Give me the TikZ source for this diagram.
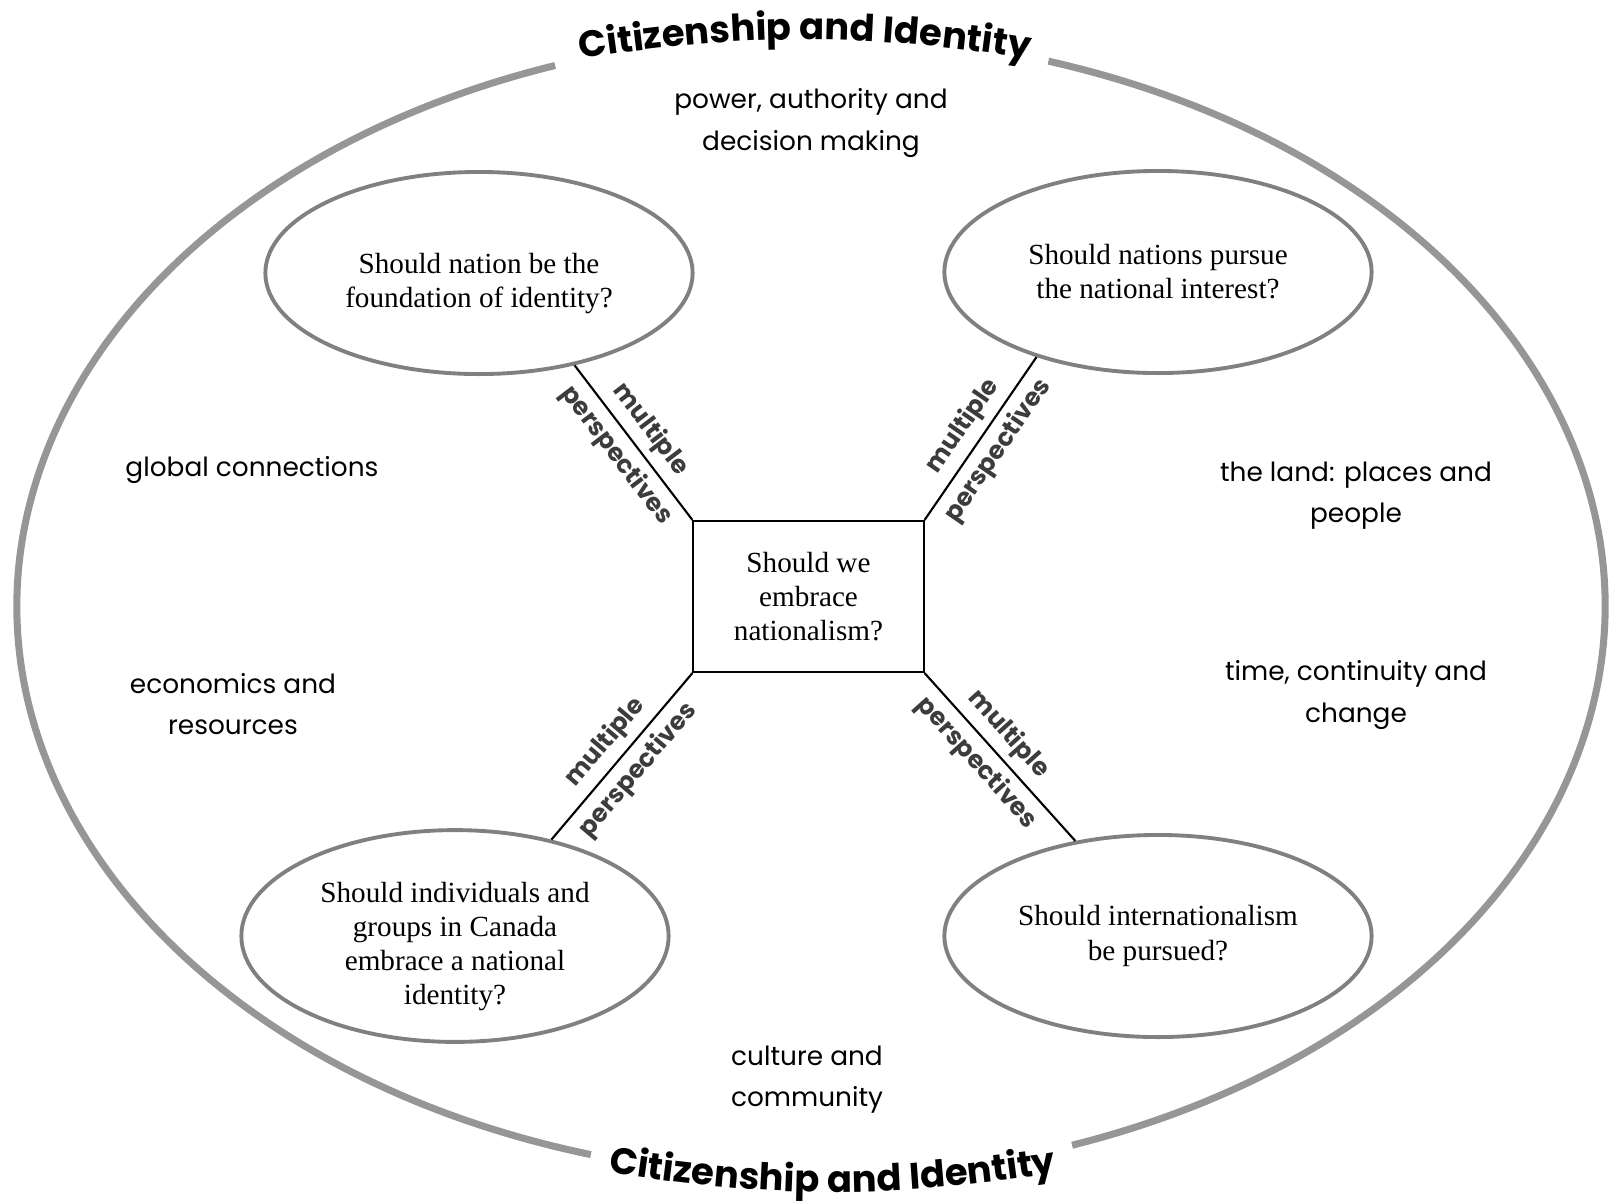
\documentclass[tikz,border=0pt]{standalone}
\usepackage{fontspec}
\usepackage{tikz}
\usetikzlibrary{shapes,decorations.text}
\setmainfont{Liberation Serif}
\newfontfamily\comicfont{Poppins}
\newcommand{\titlefont}{\comicfont\bfseries\fontsize{10.5}{12}\selectfont}
\newcommand{\lowstrut}{\rule{0pt}{11.7pt}}
\definecolor{ring_grey}{RGB}{150, 150, 150}
\definecolor{oval_grey}{RGB}{128, 128, 128}
\definecolor{label_grey}{RGB}{60, 60, 60}
\tikzstyle{qn}=[ellipse,draw=oval_grey,line width=1.1pt,inner sep=0pt,
  minimum width=4.27cm,minimum height=2.02cm,align=center,
  font=\fontsize{8.3}{9.7}\selectfont]
\tikzstyle{mainq}=[rectangle,draw=black,line width=0.6pt,inner sep=0pt,
  minimum width=2.3cm,minimum height=1.51cm,align=center,
  font=\fontsize{8.3}{9.7}\selectfont]
\tikzstyle{theme}=[align=center,font=\comicfont\fontsize{7.5}{11.7}\selectfont]
\tikzstyle{mp}=[sloped,inner sep=2pt,text=label_grey,
  font=\comicfont\bfseries\fontsize{7.1}{8}\selectfont]

\begin{document}
\begin{tikzpicture}[x=0.01cm,y=-0.01cm]
    \useasboundingbox (0,0) rectangle (1611,1202);
    % outer ring, open where the titles sit
    \draw [ring_grey,line width=2pt] (811,606) ++(-72.6:794 and 571)
      arc [start angle=-72.6,end angle=70.8,x radius=794,y radius=571];
    \draw [ring_grey,line width=2pt] (811,606) ++(106.1:794 and 571)
      arc [start angle=106.1,end angle=251.2,x radius=794,y radius=571];
    \path [decorate,decoration={text along path,text align=center,
      text={|\titlefont|Citizenship and Identity}}] (560,62) to [bend left=9] (1050,62);
    \path [decorate,decoration={text along path,text align=center,
      text={|\titlefont|Citizenship and Identity}}] (590,1170) to [bend right=9] (1075,1170);
    \node [style=qn] (nation) at (479,273) {\lowstrut Should nation be the\\foundation of identity?};
    \node [style=qn] (interest) at (1158,272) {Should nations pursue\\the national interest?};
    \node [style=qn] (canada) at (455,936) {\lowstrut Should individuals and\\groups in Canada\\embrace a national\\identity?};
    \node [style=qn] (intl) at (1158,936) {Should internationalism\\be pursued?};
    \node [style=mainq] (embrace) at (808.5,596.5) {Should we\\embrace\\nationalism?};
    \node [style=theme] (power) at (811,123) {power, authority and\\decision making};
    \node [style=theme] (global) at (252,470) {global connections};
    \node [style=theme] (economics) at (233,704) {economics and\\resources};
    \node [style=theme] (land) at (1356,496) {the land: places and\\people};
    \node [style=theme] (time) at (1356,695) {time, continuity and\\change};
    \node [style=theme] (culture) at (807,1080) {culture and\\community};
    \draw [line width=0.6pt] (nation.-44) to node[style=mp,above]{multiple} node[style=mp,below]{perspectives} (embrace.north west);
    \draw [line width=0.6pt] (embrace.north east) to node[style=mp,above]{multiple} node[style=mp,below]{perspectives} (interest.215);
    \draw [line width=0.6pt] (canada.45) to node[style=mp,above]{multiple} node[style=mp,below]{perspectives} (embrace.south west);
    \draw [line width=0.6pt] (embrace.south east) to node[style=mp,above,pos=0.45]{multiple} node[style=mp,below,pos=0.45]{perspectives} (intl.131);
  \end{tikzpicture}
\end{document}
